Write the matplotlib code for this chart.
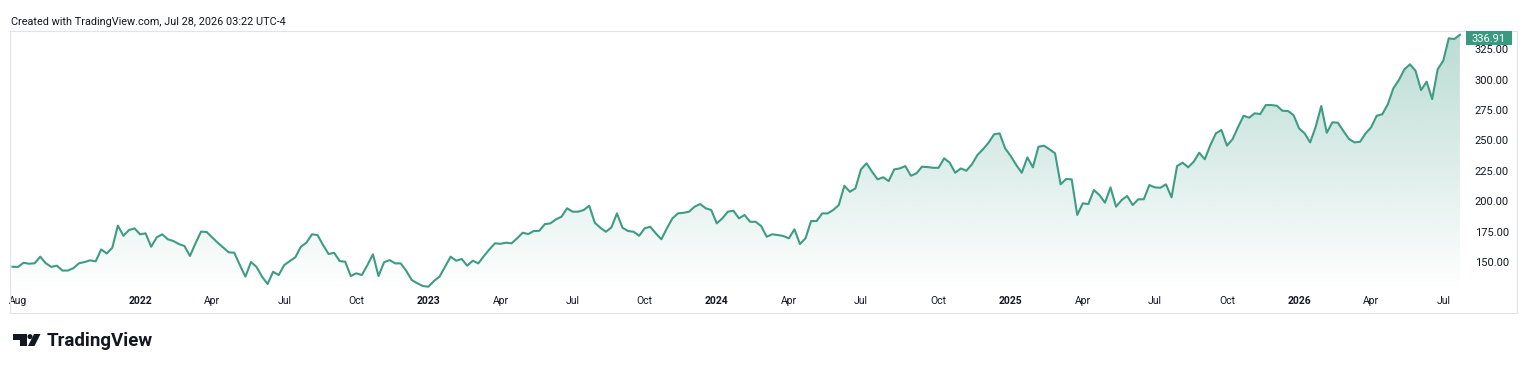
import numpy as np
import pandas as pd
import matplotlib
matplotlib.use("Agg")
import matplotlib.pyplot as plt
import matplotlib.transforms as mtransforms
from matplotlib.patches import Rectangle, Polygon, Circle

# 1. Weekly closes (Jul 2021 -> Jul 2026)
values = [
    146.1, 146.0, 149.4, 148.6, 149.0, 154.4, 149.0, 146.0, 147.0, 143.0,
    143.0, 145.0, 149.0, 150.0, 151.4, 150.6, 160.4, 157.0, 161.8, 180.0,
    171.6, 176.3, 177.7, 172.8, 173.6, 162.6, 170.3, 172.8, 168.7, 167.3,
    164.8, 163.2, 155.0, 165.4, 175.0, 174.7, 170.3, 165.9, 162.0, 158.0,
    157.6, 147.5, 138.0, 150.0, 146.0, 138.0, 131.9, 142.0, 139.3, 147.5,
    150.8, 153.9, 162.6, 165.9, 172.8, 172.2, 164.0, 156.6, 157.6, 150.8,
    150.2, 138.5, 140.7, 139.3, 147.5, 156.3, 138.5, 149.8, 151.6, 148.9,
    148.9, 142.8, 135.2, 132.5, 130.3, 129.7, 134.4, 138.0, 146.1, 154.4,
    151.1, 152.5, 147.0, 151.1, 148.9, 154.9, 160.4, 165.4, 165.0, 165.9,
    165.4, 169.5, 174.1, 173.0, 175.5, 175.7, 181.2, 181.8, 185.1, 187.3,
    194.2, 191.4, 191.4, 192.8, 196.3, 182.3, 178.2, 174.9, 178.5, 190.0,
    178.2, 175.5, 174.9, 171.6, 177.7, 179.0, 173.6, 168.7, 177.7, 185.9,
    190.0, 190.5, 191.4, 195.5, 197.7, 194.2, 192.8, 181.8, 185.9, 191.4,
    192.2, 185.9, 188.7, 183.1, 183.1, 179.6, 170.8, 172.8, 172.2, 171.4,
    169.5, 176.9, 164.8, 169.5, 183.7, 183.7, 190.0, 190.0, 192.8, 196.9,
    212.7, 207.8, 210.6, 226.2, 231.2, 224.3, 218.0, 219.7, 216.6, 226.2,
    227.0, 228.9, 221.0, 222.9, 228.4, 228.1, 227.5, 227.5, 235.3, 231.7,
    223.4, 227.0, 225.1, 230.3, 238.0, 242.7, 248.1, 255.0, 255.8, 243.5,
    237.2, 229.8, 223.4, 236.1, 227.9, 244.8, 245.7, 242.7, 239.4, 213.9,
    218.3, 218.0, 188.7, 198.3, 197.7, 209.2, 205.1, 198.8, 211.4, 195.5,
    201.0, 204.3, 196.9, 201.6, 201.6, 213.3, 211.4, 211.1, 213.9, 203.2,
    228.9, 231.7, 227.9, 232.5, 239.9, 234.5, 246.2, 255.8, 258.6, 245.7,
    251.0, 261.0, 270.3, 268.7, 272.3, 271.7, 279.1, 279.1, 278.5, 274.4,
    274.2, 270.9, 259.9, 255.8, 248.4, 261.3, 278.3, 256.3, 264.9, 264.6,
    257.7, 251.2, 248.4, 248.9, 255.8, 260.8, 270.3, 271.5, 279.7, 292.8,
    299.7, 308.5, 312.6, 307.3, 291.4, 298.3, 284.0, 308.5, 315.6, 334.0,
    333.4, 336.91,
]
dates = pd.date_range(end="2026-07-27", periods=len(values), freq="W-MON")
tick_months = [
    "2021-08", "2022-01", "2022-04", "2022-07", "2022-10", "2023-01", "2023-04",
    "2023-07", "2023-10", "2024-01", "2024-04", "2024-07", "2024-10", "2025-01",
    "2025-04", "2025-07", "2025-10", "2026-01", "2026-04", "2026-07",
]
price_ticks = [150, 175, 200, 225, 250, 275, 300, 325]
last_label = "336.91"
header = "Created with TradingView.com, Jul 28, 2026 03:22 UTC-4"

line_color = "#3e9c84"
text_color = "#131722"
plt.rcParams["font.family"] = ["Roboto", "DejaVu Sans"]

W, H = 1538, 366
fig = plt.figure(figsize=(W / 100, H / 100), dpi=100)
# pixel transform with origin at top-left of the figure
px = mtransforms.Affine2D().scale(1 / W, -1 / H).translate(0, 1) + fig.transFigure

# 2. Main pane (x = bar index, like TradingView)
left, right, top, bottom = 10, 1461, 31, 290
ax = fig.add_axes([left / W, 1 - bottom / H, (right - left) / W, (bottom - top) / H])
idx = np.arange(len(values))
ymin, ymax = 127.0, 340.0
ax.set_xlim(-0.45, len(values) - 0.8)
ax.set_ylim(ymin, ymax)

ax.plot(idx, values, color=line_color, lw=1.5, solid_joinstyle="round", zorder=3)

# gradient area under the line
verts = [(idx[0], ymin)] + list(zip(idx, values)) + [(idx[-1], ymin)]
clip = Polygon(verts, closed=True, facecolor="none", edgecolor="none")
ax.add_patch(clip)
grad = np.zeros((256, 1, 4))
grad[:, 0, 0] = 62 / 255
grad[:, 0, 1] = 156 / 255
grad[:, 0, 2] = 132 / 255
grad[:, 0, 3] = np.linspace(0.0, 0.36, 256)
img = ax.imshow(grad, extent=[-0.45, len(values), ymin, ymax], origin="lower",
                aspect="auto", zorder=2)
img.set_clip_path(clip)

for s in ax.spines.values():
    s.set_visible(False)

# 3. Axis labels: first weekly bar of each labelled month
month_key = dates.strftime("%Y-%m")
tick_pos, tick_lab = [], []
for m in tick_months:
    i = int(np.argmax(month_key == m))
    tick_pos.append(i)
    tick_lab.append(m[:4] if m.endswith("-01") else dates[i].strftime("%b"))
ax.set_xticks(tick_pos)
ax.set_xticklabels(tick_lab)
for t in ax.get_xticklabels():
    if t.get_text().isdigit():
        t.set_fontweight("bold")
ax.tick_params(axis="x", length=0, pad=4, labelsize=7.5, labelcolor=text_color)

ax.yaxis.tick_right()
ax.set_yticks(price_ticks)
ax.set_yticklabels([f"{p:.2f}" for p in price_ticks])
ax.tick_params(axis="y", length=0, pad=10, labelsize=8, labelcolor=text_color)

# 4. Last price tag, frame, header and logo
fig.patches.append(Rectangle((1466, 45), 46, -14, transform=px, facecolor="#3a9a80",
                             edgecolor="none", zorder=5))
fig.text(1489, 38.5, last_label, transform=px, ha="center", va="center",
         color="white", fontsize=8, zorder=6)
fig.patches.append(Rectangle((10, 313), 1507, -282, transform=px, facecolor="none",
                             edgecolor="#e0e3eb", lw=0.8, zorder=4))
fig.text(11, 25, header, transform=px, ha="left", va="baseline",
         color=text_color, fontsize=7.8)

logo = [
    Polygon([(12.7, 334), (26.7, 334), (26.7, 346), (20.3, 346), (20.3, 339.5),
             (12.7, 339.5)], closed=True),
    Circle((30, 336.6), 2.5),
    Polygon([(34, 334), (40.5, 334), (34.5, 346), (28, 346)], closed=True),
]
for p in logo:
    p.set_transform(px)
    p.set_facecolor(text_color)
    p.set_edgecolor("none")
    fig.patches.append(p)
fig.text(47, 346.5, "TradingView", transform=px, ha="left", va="baseline",
         color=text_color, fontsize=13.5, fontweight="bold")

fig.savefig("out.png", dpi=100, facecolor="white")
